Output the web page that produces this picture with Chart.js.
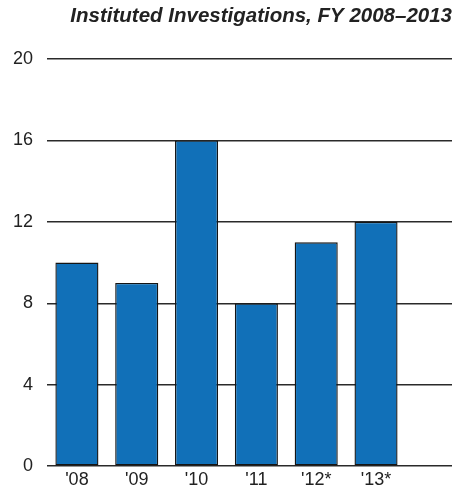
<!DOCTYPE html>
<html>
<head>
<meta charset="utf-8">
<script src="https://cdn.jsdelivr.net/npm/chart.js@4/dist/chart.umd.min.js"></script>
<style>
  html, body { margin: 0; padding: 0; background: #fff; }
  #wrap { width: 455px; height: 491px; }
</style>
</head>
<body>
<div id="wrap"><canvas id="c" width="455" height="491"></canvas></div>
<script>
// Fiscal years shown on the horizontal axis
const categories = ["'08", "'09", "'10", "'11", "'12*", "'13*"];
// Number of instituted investigations per fiscal year
const investigations = [10, 9, 16, 8, 11, 12];
// Vertical axis labels
const yTicks = [0, 4, 8, 12, 16, 20];

const titleText = 'Instituted Investigations, FY 2008\u20132013';

const points = categories.map((c, i) => ({ x: i, y: investigations[i] }));

new Chart(document.getElementById('c'), {
  type: 'bar',
  data: {
    datasets: [{
      data: points,
      backgroundColor: '#1170b8',
      borderColor: '#151515',
      borderWidth: 1.4,
      borderSkipped: false,
      barPercentage: 0.72,
      categoryPercentage: 1
    }]
  },
  options: {
    responsive: false,
    animation: false,
    layout: { padding: { left: 0, right: 3, top: 0, bottom: 0 } },
    plugins: {
      legend: { display: false },
      tooltip: { enabled: false },
      title: {
        display: true,
        text: titleText,
        align: 'end',
        color: '#222',
        font: { family: 'Liberation Sans, Arial, sans-serif', size: 20.5, style: 'italic', weight: 'bold', lineHeight: 1.2 },
        padding: { top: 3.7, bottom: 30.7 }
      }
    },
    scales: {
      x: {
        type: 'linear',
        offset: false,
        min: -0.5,
        max: 6.27,
        afterBuildTicks: (s) => { s.ticks = categories.map((c, i) => ({ value: i })); },
        grid: { display: false, drawTicks: false },
        border: { display: false },
        afterFit: (s) => { s.height = 24; },
        ticks: {
          autoSkip: false,
          maxRotation: 0,
          padding: 3,
          color: '#222',
          font: { family: 'Liberation Sans, Arial, sans-serif', size: 18 },
          callback: (v) => categories[v] !== undefined ? categories[v] : ''
        }
      },
      y: {
        min: yTicks[0],
        max: yTicks[yTicks.length - 1],
        afterBuildTicks: (s) => { s.ticks = yTicks.map(v => ({ value: v })); },
        afterFit: (s) => { s.width = 47; },
        grid: { color: '#2a2a2a', lineWidth: 1.5, drawTicks: false },
        border: { display: false },
        ticks: {
          padding: 14,
          color: '#222',
          font: { family: 'Liberation Sans, Arial, sans-serif', size: 18 }
        }
      }
    }
  }
});
</script>
</body>
</html>
